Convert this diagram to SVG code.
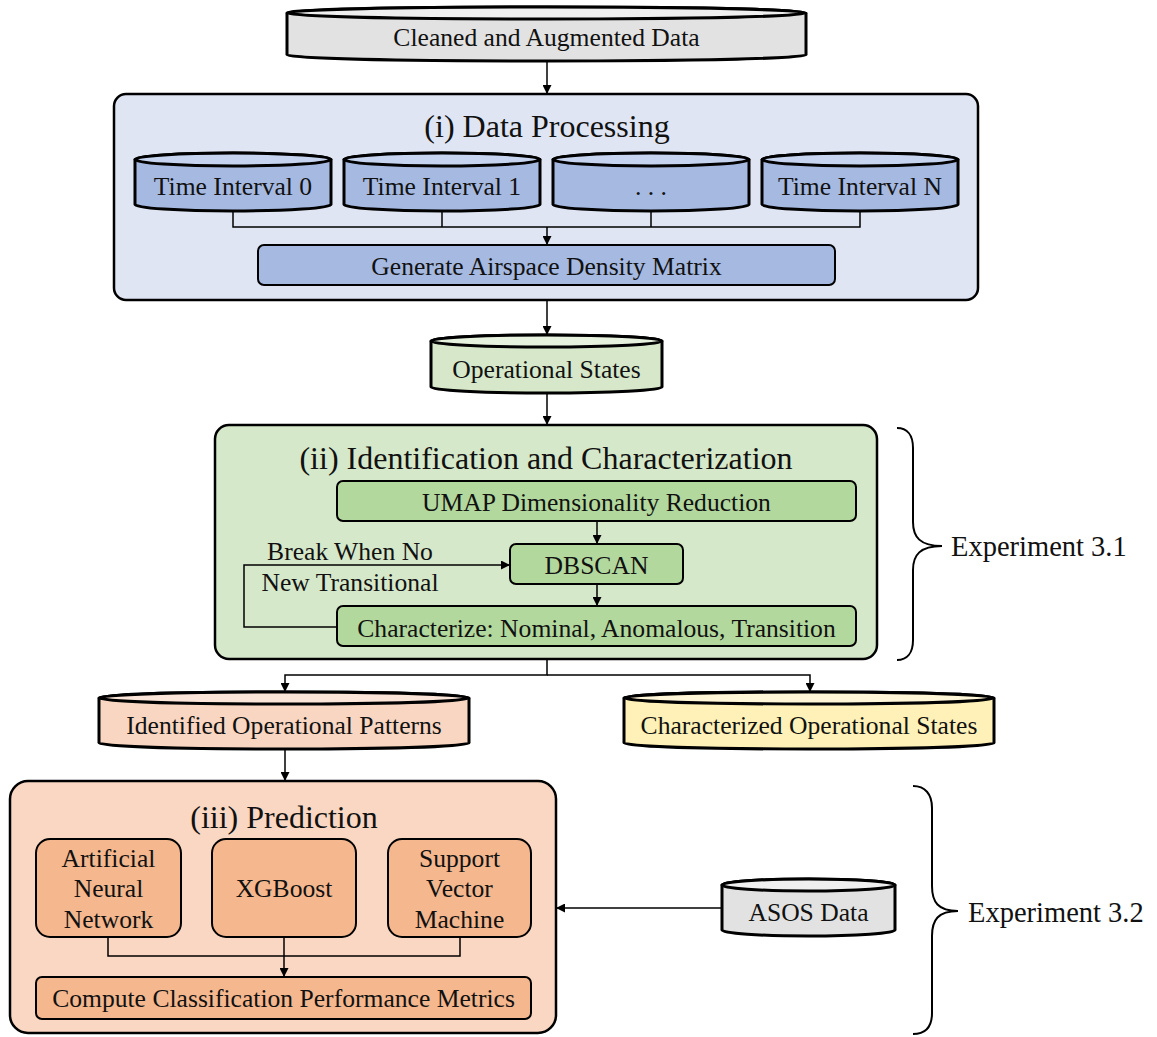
<svg xmlns="http://www.w3.org/2000/svg" width="1157" height="1037" viewBox="0 0 1157 1037">
  <defs>
    <marker id="arr" viewBox="0 0 10 10" refX="10" refY="5" markerWidth="9" markerHeight="9" markerUnits="userSpaceOnUse" orient="auto">
      <path d="M0,0 L10,5 L0,10 z" fill="#000"/>
    </marker>
    <style>
      text { font-family: "Liberation Serif", "Times New Roman", serif; fill: #111; text-anchor: middle; dominant-baseline: central; }
      .t { font-size: 25.6px; }
      .title { font-size: 32px; }
      .exp { font-size: 28.5px; text-anchor: start; }
      .cyl { stroke: #000; stroke-width: 3; }
      .outer { stroke: #000; stroke-width: 2.5; }
      .inner { stroke: #000; stroke-width: 2; }
      .conn { fill: none; stroke: #000; stroke-width: 1.5; }
      .brace { fill: none; stroke: #000; stroke-width: 2; }
      .gray { fill: #e2e2e2; } .grayTop { fill: #efefef; }
      .blue { fill: #a6b9e1; } .blueTop { fill: #c6d4ef; }
      .green { fill: #d6e8c9; } .greenTop { fill: #e6f1de; }
      .peach { fill: #f9d6c1; } .peachTop { fill: #fbe5d8; }
      .yellow { fill: #fff1b7; } .yellowTop { fill: #fff6d8; }
    </style>
  </defs>

  <!-- input data store -->
  <g id="cleaned-data">
    <path class="cyl gray" d="M287,13 V55 A259.5,6 0 0 0 806,55 V13 A259.5,6 0 0 0 287,13 Z"/>
    <ellipse class="cyl grayTop" cx="546.5" cy="13" rx="259.5" ry="6"/>
    <text class="t" x="546.5" y="37">Cleaned and Augmented Data</text>
  </g>

  <!-- stage (i) -->
  <g id="data-processing">
    <rect class="outer" x="114" y="94" width="864" height="206" rx="12" fill="#dfe5f3"/>
    <text class="title" x="547" y="126">(i) Data Processing</text>
  </g>
  <g id="time-interval-0">
    <path class="cyl blue" d="M135,159.5 V204.5 A98,6.5 0 0 0 331,204.5 V159.5 A98,6.5 0 0 0 135,159.5 Z"/>
    <ellipse class="cyl blueTop" cx="233" cy="159.5" rx="98" ry="6.5"/>
    <text class="t" x="233" y="186">Time Interval 0</text>
  </g>
  <g id="time-interval-1">
    <path class="cyl blue" d="M344,159.5 V204.5 A98,6.5 0 0 0 540,204.5 V159.5 A98,6.5 0 0 0 344,159.5 Z"/>
    <ellipse class="cyl blueTop" cx="442" cy="159.5" rx="98" ry="6.5"/>
    <text class="t" x="442" y="186">Time Interval 1</text>
  </g>
  <g id="time-interval-dots">
    <path class="cyl blue" d="M553,159.5 V204.5 A98,6.5 0 0 0 749,204.5 V159.5 A98,6.5 0 0 0 553,159.5 Z"/>
    <ellipse class="cyl blueTop" cx="651" cy="159.5" rx="98" ry="6.5"/>
    <text class="t" x="651" y="186">. . .</text>
  </g>
  <g id="time-interval-n">
    <path class="cyl blue" d="M762,159.5 V204.5 A98,6.5 0 0 0 958,204.5 V159.5 A98,6.5 0 0 0 762,159.5 Z"/>
    <ellipse class="cyl blueTop" cx="860" cy="159.5" rx="98" ry="6.5"/>
    <text class="t" x="860" y="186">Time Interval N</text>
  </g>
  <g id="density-matrix">
    <rect class="inner blue" x="258" y="245" width="577" height="40" rx="6"/>
    <text class="t" x="546.5" y="266">Generate Airspace Density Matrix</text>
  </g>

  <g id="operational-states">
    <path class="cyl green" d="M431,341 V387 A115.5,6 0 0 0 662,387 V341 A115.5,6 0 0 0 431,341 Z"/>
    <ellipse class="cyl greenTop" cx="546.5" cy="341" rx="115.5" ry="6"/>
    <text class="t" x="546.5" y="369">Operational States</text>
  </g>

  <!-- stage (ii) -->
  <g id="identification">
    <rect class="outer" x="215" y="425" width="662" height="234" rx="14" fill="#d6e8ca"/>
    <text class="title" x="546" y="458">(ii) Identification and Characterization</text>
  </g>
  <g id="umap">
    <rect class="inner" x="337" y="481" width="519" height="40" rx="6" fill="#b3d89d"/>
    <text class="t" x="596.5" y="502">UMAP Dimensionality Reduction</text>
  </g>
  <g id="dbscan">
    <rect class="inner" x="510" y="544" width="173" height="40" rx="6" fill="#b3d89d"/>
    <text class="t" x="596.5" y="565">DBSCAN</text>
  </g>
  <g id="characterize">
    <rect class="inner" x="337" y="606" width="519" height="40" rx="6" fill="#b3d89d"/>
    <text class="t" x="596.5" y="628">Characterize: Nominal, Anomalous, Transition</text>
  </g>

  <g id="identified-patterns">
    <path class="cyl peach" d="M99,698 V743 A185,6 0 0 0 469,743 V698 A185,6 0 0 0 99,698 Z"/>
    <ellipse class="cyl peachTop" cx="284" cy="698" rx="185" ry="6"/>
    <text class="t" x="284" y="725">Identified Operational Patterns</text>
  </g>
  <g id="characterized-states">
    <path class="cyl yellow" d="M624,698 V743 A185,6 0 0 0 994,743 V698 A185,6 0 0 0 624,698 Z"/>
    <ellipse class="cyl yellowTop" cx="809" cy="698" rx="185" ry="6"/>
    <text class="t" x="809" y="725">Characterized Operational States</text>
  </g>

  <!-- stage (iii) -->
  <g id="prediction">
    <rect class="outer" x="10" y="781" width="546" height="252" rx="18" fill="#f9d7c2"/>
    <text class="title" x="284" y="817">(iii) Prediction</text>
  </g>
  <g id="ann">
    <rect class="inner" x="36" y="839" width="145" height="98" rx="14" fill="#f4b78e"/>
    <text class="t" x="108.5" y="858">Artificial</text>
    <text class="t" x="108.5" y="888">Neural</text>
    <text class="t" x="108.5" y="919">Network</text>
  </g>
  <g id="xgboost">
    <rect class="inner" x="212" y="839" width="144" height="98" rx="14" fill="#f4b78e"/>
    <text class="t" x="284" y="888">XGBoost</text>
  </g>
  <g id="svm">
    <rect class="inner" x="388" y="839" width="143" height="98" rx="14" fill="#f4b78e"/>
    <text class="t" x="459.5" y="858">Support</text>
    <text class="t" x="459.5" y="888">Vector</text>
    <text class="t" x="459.5" y="919">Machine</text>
  </g>
  <g id="metrics">
    <rect class="inner" x="36" y="977" width="495" height="42" rx="6" fill="#f4b78e"/>
    <text class="t" x="283.5" y="998">Compute Classification Performance Metrics</text>
  </g>

  <g id="asos-data">
    <path class="cyl gray" d="M722,885 V930 A86.5,6 0 0 0 895,930 V885 A86.5,6 0 0 0 722,885 Z"/>
    <ellipse class="cyl grayTop" cx="808.5" cy="885" rx="86.5" ry="6"/>
    <text class="t" x="808.5" y="912">ASOS Data</text>
  </g>

  <!-- experiment brackets -->
  <g id="experiment-3-1">
    <path class="brace" d="M897,428 C907,428 913,435 913,448 V522 C913,537 920,546 942,546 M942,546 C920,546 913,555 913,570 V640 C913,653 907,660 897,660"/>
    <text class="exp" x="951" y="546">Experiment 3.1</text>
  </g>
  <g id="experiment-3-2">
    <path class="brace" d="M913,786 C925,786 932,794 932,808 V886 C932,902 938,911 958,911 M958,911 C938,911 932,920 932,936 V1013 C932,1027 925,1034 913,1034"/>
    <text class="exp" x="968" y="912">Experiment 3.2</text>
  </g>

  <!-- connectors -->
  <g id="connectors">
    <path class="conn" d="M547,61 V94" marker-end="url(#arr)"/>
    <path class="conn" d="M233,211 V227 H860 V211 M442,211 V227 M651,211 V227"/>
    <path class="conn" d="M547,227 V245" marker-end="url(#arr)"/>
    <path class="conn" d="M547,300 V335" marker-end="url(#arr)"/>
    <path class="conn" d="M547,393 V425" marker-end="url(#arr)"/>
    <path class="conn" d="M597,521 V544" marker-end="url(#arr)"/>
    <path class="conn" d="M597,584 V606" marker-end="url(#arr)"/>
    <path class="conn" d="M337,627 H244 V565 H510" marker-end="url(#arr)"/>
    <path class="conn" d="M547,659 V675 H285 V692" marker-end="url(#arr)"/>
    <path class="conn" d="M547,675 H810 V692" marker-end="url(#arr)"/>
    <path class="conn" d="M285,749 V781" marker-end="url(#arr)"/>
    <path class="conn" d="M108,937 V956 H460 V937"/>
    <path class="conn" d="M284,937 V977" marker-end="url(#arr)"/>
    <path class="conn" d="M722,908 H556" marker-end="url(#arr)"/>
    <text class="t" x="350" y="551">Break When No</text>
    <text class="t" x="350" y="582">New Transitional</text>
  </g>
</svg>
